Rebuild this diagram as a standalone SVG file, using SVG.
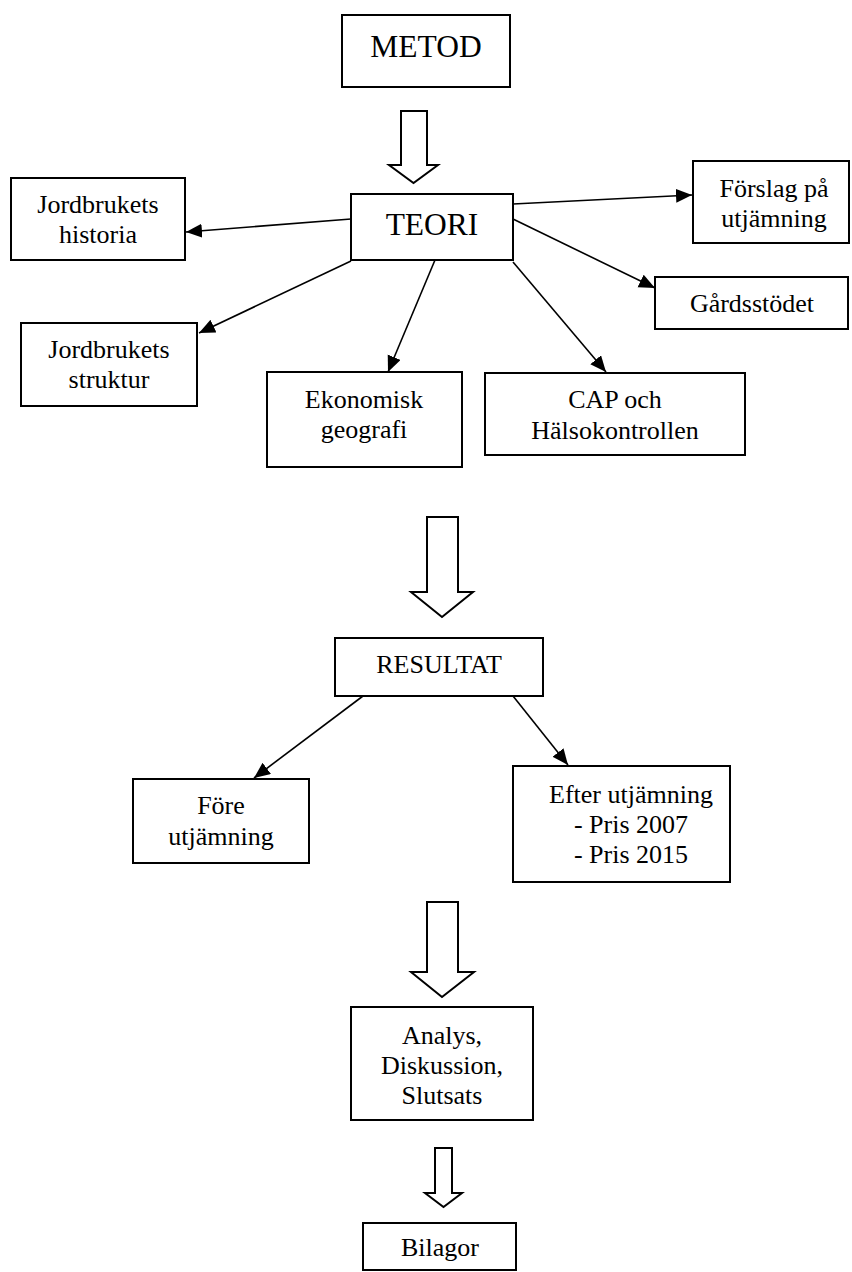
<svg xmlns="http://www.w3.org/2000/svg" width="852" height="1272" viewBox="0 0 852 1272">
<style>
.box{fill:#fff;stroke:#000;stroke-width:2}
.t{font-family:"Liberation Serif","Times New Roman",serif;font-size:26px;fill:#000;text-anchor:middle}
.big{font-size:31.5px}
.conn{stroke:#000;stroke-width:1.6;fill:none}
.blk{fill:#fff;stroke:#000;stroke-width:2;stroke-linejoin:miter}
</style>
<defs>
<marker id="ah" markerUnits="userSpaceOnUse" markerWidth="17" markerHeight="15" refX="16" refY="7" orient="auto">
<path d="M0,0 L16,7 L0,14 z" fill="#000"/>
</marker>
</defs>
<rect width="852" height="1272" fill="#fff"/>

<g id="connectors">
<line class="conn" x1="351" y1="219" x2="186" y2="232" marker-end="url(#ah)"/>
<line class="conn" x1="351" y1="261" x2="199" y2="333" marker-end="url(#ah)"/>
<line class="conn" x1="435" y1="260" x2="388" y2="372" marker-end="url(#ah)"/>
<line class="conn" x1="513" y1="262" x2="606" y2="372" marker-end="url(#ah)"/>
<line class="conn" x1="513" y1="219" x2="655" y2="288" marker-end="url(#ah)"/>
<line class="conn" x1="513" y1="204" x2="692" y2="195" marker-end="url(#ah)"/>
<line class="conn" x1="363" y1="696" x2="254" y2="778" marker-end="url(#ah)"/>
<line class="conn" x1="513" y1="696" x2="568" y2="765" marker-end="url(#ah)"/>
<path class="blk" d="M401,111 H427 V165 H438 L413.5,183 L389,165 H401 Z"/>
<path class="blk" d="M427,517 H458 V592 H473 L442,617 L411,592 H427 Z"/>
<path class="blk" d="M427,902 H458 V972 H474 L442,997 L411,972 H427 Z"/>
<path class="blk" d="M435,1148 H452 V1193 H462 L443.5,1207 L425,1193 H435 Z"/>
</g>

<g id="metod">
<rect class="box" x="342" y="15" width="168" height="72"/>
<text class="t big" x="426" y="57">METOD</text>
</g>
<g id="teori">
<rect class="box" x="351" y="194" width="162" height="66"/>
<text class="t big" x="432" y="235">TEORI</text>
</g>
<g id="historia">
<rect class="box" x="11" y="178" width="174" height="82"/>
<text class="t" x="98" y="213">Jordbrukets</text>
<text class="t" x="98" y="243">historia</text>
</g>
<g id="struktur">
<rect class="box" x="21" y="323" width="176" height="83"/>
<text class="t" x="109" y="358">Jordbrukets</text>
<text class="t" x="109" y="388">struktur</text>
</g>
<g id="ekonomisk">
<rect class="box" x="267" y="372" width="195" height="95"/>
<text class="t" x="364" y="408">Ekonomisk</text>
<text class="t" x="364" y="438">geografi</text>
</g>
<g id="cap">
<rect class="box" x="485" y="373" width="260" height="82"/>
<text class="t" x="615" y="408">CAP och</text>
<text class="t" x="615" y="439">Hälsokontrollen</text>
</g>
<g id="forslag">
<rect class="box" x="693" y="161" width="156" height="82"/>
<text class="t" x="774" y="197">Förslag på</text>
<text class="t" x="774" y="227">utjämning</text>
</g>
<g id="gardsstodet">
<rect class="box" x="655" y="277" width="193" height="52"/>
<text class="t" x="752" y="312">Gårdsstödet</text>
</g>
<g id="resultat">
<rect class="box" x="335" y="638" width="208" height="58"/>
<text class="t" x="439" y="673">RESULTAT</text>
</g>
<g id="fore">
<rect class="box" x="133" y="779" width="176" height="84"/>
<text class="t" x="221" y="814">Före</text>
<text class="t" x="221" y="845">utjämning</text>
</g>
<g id="efter">
<rect class="box" x="513" y="766" width="217" height="116"/>
<text class="t" x="631" y="803">Efter utjämning</text>
<text class="t" x="631" y="833">- Pris 2007</text>
<text class="t" x="631" y="863">- Pris 2015</text>
</g>
<g id="analys">
<rect class="box" x="351" y="1007" width="182" height="113"/>
<text class="t" x="442" y="1044">Analys,</text>
<text class="t" x="442" y="1074">Diskussion,</text>
<text class="t" x="442" y="1104">Slutsats</text>
</g>
<g id="bilagor">
<rect class="box" x="363" y="1223" width="153" height="47"/>
<text class="t" x="440" y="1256">Bilagor</text>
</g>
</svg>
